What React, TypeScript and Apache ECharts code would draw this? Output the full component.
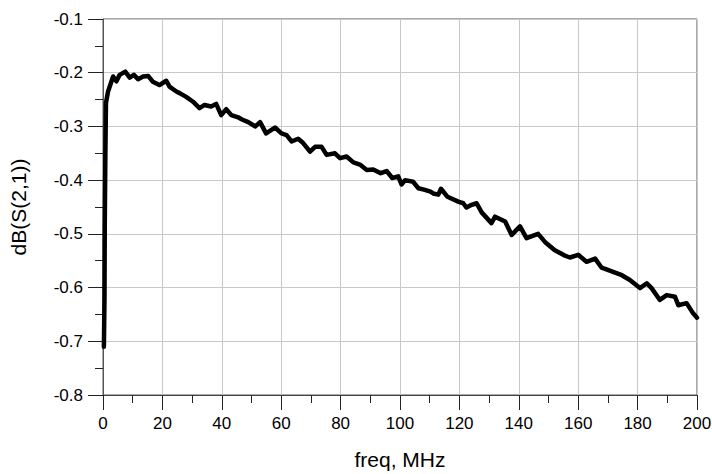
import React, { useEffect, useRef } from "react";
import * as echarts from "echarts";

const xTickLabels = ["0", "20", "40", "60", "80", "100", "120", "140", "160", "180", "200"];
const yTickLabels = ["-0.8", "-0.7", "-0.6", "-0.5", "-0.4", "-0.3", "-0.2", "-0.1"];

const freqMHz = [
  0.3, 0.5, 0.6, 0.8, 1.0, 1.7, 2.5, 3.4, 4.5, 5.6, 7.5, 9.0, 10.4, 11.8, 13.5, 15.2, 16.8, 19.0,
  21.3, 22.4, 24.7, 25.8, 28.0, 30.3, 32.5, 34.2, 36.4, 38.1, 39.8, 41.5, 43.2, 45.5, 46.8, 48.9,
  51.2, 52.9, 54.9, 57.9, 60.1, 61.8, 63.5, 65.7, 67.4, 69.7, 71.4, 73.6, 75.3, 78.1, 79.8, 82.0,
  84.3, 86.5, 88.8, 91.0, 93.5, 95.5, 97.4, 99.4, 100.5, 101.7, 104.4, 106.2, 108.4, 110.5, 111.2,
  112.9, 113.8, 116.0, 119.6, 121.3, 122.4, 124.1, 125.8, 127.5, 130.8, 132.0, 135.4, 137.6, 140.4,
  142.6, 146.5, 148.8, 152.0, 155.3, 157.2, 160.0, 162.8, 165.7, 167.9, 171.3, 174.7, 177.4, 180.8,
  183.1, 184.7, 187.5, 189.8, 192.6, 193.7, 196.5, 198.7, 200.0,
];

const s21dB = [
  -0.71, -0.62, -0.48, -0.35, -0.256, -0.235, -0.222, -0.207, -0.216, -0.204, -0.198, -0.209, -0.204,
  -0.212, -0.207, -0.206, -0.217, -0.223, -0.215, -0.226, -0.235, -0.238, -0.245, -0.254, -0.266,
  -0.26, -0.263, -0.258, -0.279, -0.268, -0.279, -0.283, -0.287, -0.292, -0.3, -0.292, -0.313, -0.302,
  -0.313, -0.316, -0.328, -0.323, -0.331, -0.347, -0.338, -0.338, -0.353, -0.35, -0.359, -0.356,
  -0.367, -0.371, -0.381, -0.38, -0.387, -0.383, -0.396, -0.393, -0.408, -0.4, -0.403, -0.415, -0.418,
  -0.422, -0.425, -0.427, -0.416, -0.431, -0.44, -0.443, -0.451, -0.446, -0.443, -0.46, -0.48, -0.468,
  -0.477, -0.502, -0.486, -0.508, -0.5, -0.515, -0.53, -0.54, -0.544, -0.539, -0.552, -0.546, -0.563,
  -0.57, -0.577, -0.586, -0.601, -0.592, -0.601, -0.623, -0.614, -0.617, -0.633, -0.629, -0.648, -0.656,
];

const FONT = "'Liberation Sans', Arial, sans-serif";

export default function App() {
  const ref = useRef<HTMLDivElement>(null);
  useEffect(() => {
    if (!ref.current) return;
    const chart = echarts.init(ref.current, undefined, { renderer: "svg" });
    const xMin = Number(xTickLabels[0]);
    const xMax = Number(xTickLabels[xTickLabels.length - 1]);
    const yMin = Number(yTickLabels[0]);
    const yMax = Number(yTickLabels[yTickLabels.length - 1]);
    chart.setOption({
      animation: false,
      backgroundColor: "#ffffff",
      grid: {
        left: 103,
        right: 15,
        top: 19,
        bottom: 79,
        containLabel: false,
        outerBoundsMode: "none",
        show: true,
        borderColor: "#555555",
        borderWidth: 1,
        backgroundColor: "transparent",
      },
      xAxis: {
        type: "value",
        min: xMin,
        max: xMax,
        interval: 20,
        name: "freq, MHz",
        nameLocation: "middle",
        nameGap: 54,
        nameTextStyle: { color: "#000", fontSize: 21, fontFamily: FONT },
        axisLine: { show: true, lineStyle: { color: "#444", width: 1 } },
        axisTick: { show: true, inside: false, length: 15, lineStyle: { color: "#222", width: 1 } },
        minorTick: { show: true, splitNumber: 2, length: 8, lineStyle: { color: "#222", width: 1 } },
        axisLabel: { color: "#000", fontSize: 17, fontFamily: FONT, margin: 20 },
        splitLine: { show: true, lineStyle: { color: "#c8c8c8", width: 1 } },
      },
      yAxis: {
        type: "value",
        min: yMin,
        max: yMax,
        interval: 0.1,
        name: "dB(S(2,1))",
        nameLocation: "middle",
        nameGap: 74,
        nameTextStyle: { color: "#000", fontSize: 21, fontFamily: FONT },
        axisLine: { show: true, lineStyle: { color: "#555", width: 1 } },
        axisTick: { show: true, inside: false, length: 15, lineStyle: { color: "#222", width: 1 } },
        minorTick: { show: true, splitNumber: 2, length: 8, lineStyle: { color: "#222", width: 1 } },
        axisLabel: {
          color: "#000",
          fontSize: 17,
          fontFamily: FONT,
          margin: 20,
          formatter: (v: number) => v.toFixed(1),
        },
        splitLine: { show: true, lineStyle: { color: "#c8c8c8", width: 1 } },
      },
      series: [
        {
          type: "line",
          data: freqMHz.map((f, i) => [f, s21dB[i]]),
          showSymbol: false,
          symbol: "none",
          lineStyle: { color: "#000", width: 4.5, join: "round", cap: "round" },
          z: 5,
        },
      ],
    });
    return () => chart.dispose();
  }, []);
  return (
    <div
      ref={ref}
      style={{ position: "fixed", left: 0, top: 0, width: 712, height: 474 }}
    />
  );
}
